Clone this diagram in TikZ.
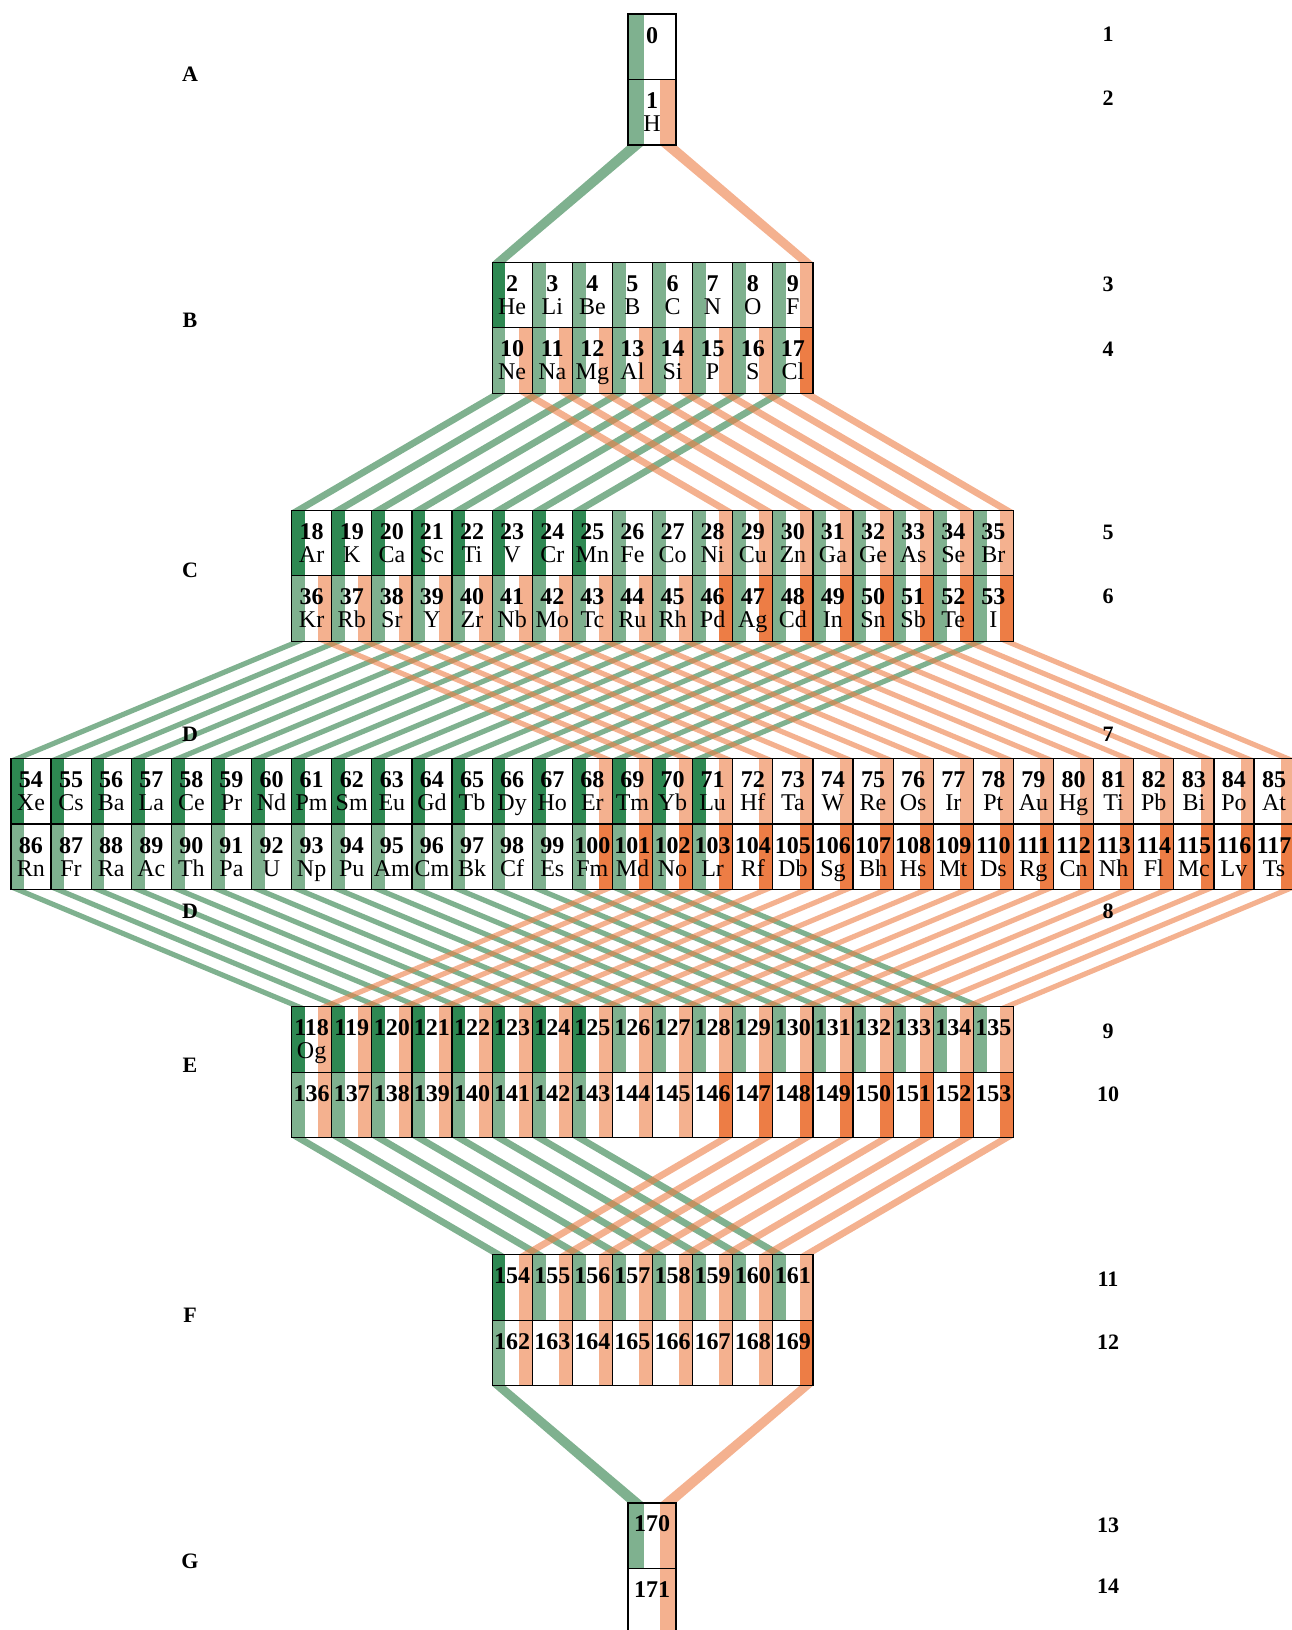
\documentclass[tikz,border=0pt]{standalone}
\usepackage{fontspec}
\setmainfont{Liberation Serif}
\usetikzlibrary{calc}

\definecolor{gdark}{RGB}{46,136,82}
\definecolor{gbase}{RGB}{42,125,68}
\definecolor{odark}{RGB}{237,125,69}
\colorlet{gmid}{gbase!60!white}
\colorlet{olight}{odark!60!white}

\tikzset{
  cell/.style={rectangle, fill=white, minimum height=32.75pt, inner sep=0pt, outer sep=0pt, anchor=north west},
  border/.style={draw=black, line width=0.6pt},
  gs0/.style={}, gs1/.style={fill=gmid}, gs2/.style={fill=gdark},
  os0/.style={}, os1/.style={fill=olight}, os2/.style={fill=odark},
  gline/.style={fill=gbase, fill opacity=0.6},
  oline/.style={fill=odark, fill opacity=0.6},
  num/.style={anchor=base, inner sep=0pt, font=\bfseries\fontsize{12}{12}\selectfont},
  sym/.style={anchor=base, inner sep=0pt, font=\fontsize{12}{12}\selectfont},
  lab/.style={inner sep=0pt, font=\bfseries\fontsize{11}{11}\selectfont}
}

\begin{document}
\begin{tikzpicture}[x=0.5pt, y=-0.5pt]
  \useasboundingbox (0,0) rectangle (1292,1630);

  % cells, row by row
  \foreach \first/\last/\xl/\yt/\w in {0/0/628/14/48, 1/1/628/79.5/48,
      2/9/492.1/262.2/40.1, 10/17/492.1/327.7/40.1,
      18/35/291.6/510.3/40.1, 36/53/291.6/575.8/40.1,
      54/85/10.9/758.5/40.1, 86/117/10.9/824/40.1,
      118/135/291.6/1006.6/40.1, 136/153/291.6/1072.1/40.1,
      154/161/492.1/1254.8/40.1, 162/169/492.1/1320.3/40.1,
      170/170/628/1502.9/48, 171/171/628/1568.4/48}
    \foreach \n in {\first,...,\last}
      \node[cell, minimum width=\w*0.5pt] (c\n) at ({\xl+(\n-\first)*\w},\yt) {};

  % ribbons between the blocks
  \foreach \ga/\gb/\oa/\ob/\k in {1/2/1/9/1, 10/18/10/28/8, 36/54/36/68/18,
      86/118/100/118/18, 136/154/146/154/8, 162/170/169/170/1}
    \foreach \i in {1,...,\k} {
      \pgfmathtruncatemacro\a{\ga+\i-1}
      \pgfmathtruncatemacro\b{\gb+\i-1}
      \fill[gline] (c\a.south west) -- ($(c\a.south west)!0.3333!(c\a.south east)$)
        -- ($(c\b.north west)!0.3333!(c\b.north east)$) -- (c\b.north west) -- cycle;
    }
  \foreach \ga/\gb/\oa/\ob/\k in {1/2/1/9/1, 10/18/10/28/8, 36/54/36/68/18,
      86/118/100/118/18, 136/154/146/154/8, 162/170/169/170/1}
    \foreach \i in {1,...,\k} {
      \pgfmathtruncatemacro\a{\oa+\i-1}
      \pgfmathtruncatemacro\b{\ob+\i-1}
      \fill[oline] ($(c\a.south west)!0.6667!(c\a.south east)$) -- (c\a.south east)
        -- (c\b.north east) -- ($(c\b.north west)!0.6667!(c\b.north east)$) -- cycle;
    }

  % stripes: green left, orange right
  \foreach \na/\nb/\g/\o in {0/0/1/0, 1/1/1/1, 2/2/2/0, 3/8/1/0, 9/9/1/1,
      10/16/1/1, 17/17/1/2, 18/25/2/0, 26/27/1/0, 28/35/1/1, 36/45/1/1,
      46/53/1/2, 54/67/2/0, 68/71/2/1, 72/85/0/1, 86/99/1/0, 100/103/1/2,
      104/117/0/2, 118/125/2/1, 126/135/1/1, 136/143/1/1, 144/145/0/1,
      146/153/0/2, 154/154/2/1, 155/161/1/1, 162/162/1/1, 163/168/0/1,
      169/169/0/2, 170/170/1/1, 171/171/0/1}
    \foreach \n in {\na,...,\nb} {
      \path[gs\g] (c\n.north west) rectangle ($(c\n.south west)!0.3333!(c\n.south east)$);
      \path[os\o] ($(c\n.north west)!0.6667!(c\n.north east)$) rectangle (c\n.south east);
    }

  % borders and numbers
  \foreach \n in {0,...,171} {
    \draw[border] (c\n.north west) rectangle (c\n.south east);
    \node[num] (t\n) at ($(c\n.north)+(0,29)$) {\n};
  }

  % element symbols
  \foreach \n/\s in {1/H,2/He,3/Li,4/Be,5/B,6/C,7/N,8/O,9/F,10/Ne,11/Na,12/Mg,
      13/Al,14/Si,15/P,16/S,17/Cl,18/Ar,19/K,20/Ca,21/Sc,22/Ti,23/V,24/Cr,
      25/Mn,26/Fe,27/Co,28/Ni,29/Cu,30/Zn,31/Ga,32/Ge,33/As,34/Se,35/Br,
      36/Kr,37/Rb,38/Sr,39/Y,40/Zr,41/Nb,42/Mo,43/Tc,44/Ru,45/Rh,46/Pd,
      47/Ag,48/Cd,49/In,50/Sn,51/Sb,52/Te,53/I,54/Xe,55/Cs,56/Ba,57/La,
      58/Ce,59/Pr,60/Nd,61/Pm,62/Sm,63/Eu,64/Gd,65/Tb,66/Dy,67/Ho,68/Er,
      69/Tm,70/Yb,71/Lu,72/Hf,73/Ta,74/W,75/Re,76/Os,77/Ir,78/Pt,79/Au,
      80/Hg,81/Ti,82/Pb,83/Bi,84/Po,85/At,86/Rn,87/Fr,88/Ra,89/Ac,90/Th,
      91/Pa,92/U,93/Np,94/Pu,95/Am,96/Cm,97/Bk,98/Cf,99/Es,100/Fm,101/Md,
      102/No,103/Lr,104/Rf,105/Db,106/Sg,107/Bh,108/Hs,109/Mt,110/Ds,
      111/Rg,112/Cn,113/Nh,114/Fl,115/Mc,116/Lv,117/Ts,118/Og}
    \node[sym] (s\n) at ($(c\n.north)+(0,52)$) {\s};

  % block and row labels
  \foreach \name/\y/\txt in {A/74/A, B/320/B, C/570/C, Dt/734/D, Db/911/D,
      E/1065/E, F/1315/F, G/1561/G}
    \node[lab] (l\name) at (190,\y) {\txt};
  \foreach \r/\y in {1/34, 2/98, 3/284, 4/349, 5/532, 6/596, 7/734, 8/911,
      9/1031, 10/1094, 11/1279, 12/1342, 13/1525, 14/1586}
    \node[lab] (r\r) at (1108,\y) {\r};
\end{tikzpicture}
\end{document}
